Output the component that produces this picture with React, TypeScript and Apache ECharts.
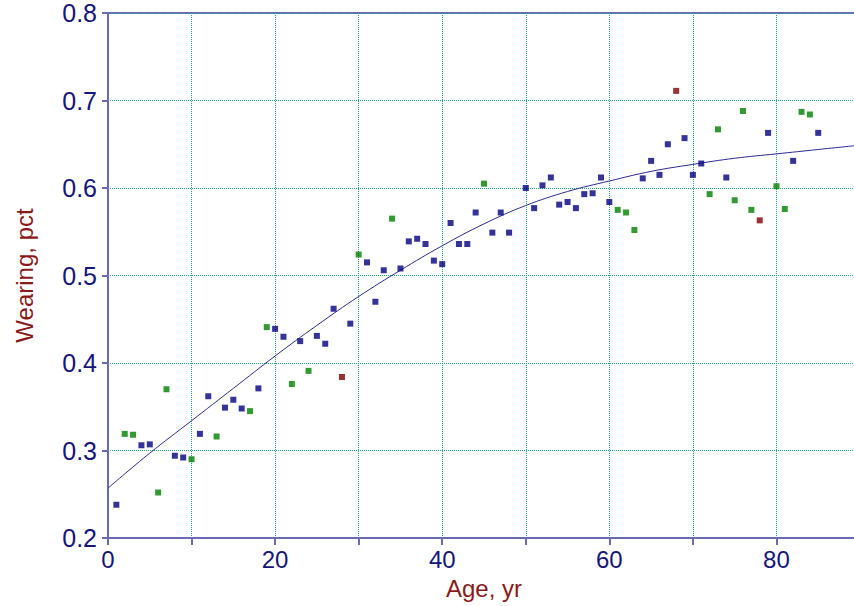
import React, { useEffect, useRef } from "react";
import * as echarts from "echarts";

const ages = [
  1, 2, 3, 4, 5, 6, 7, 8, 9, 10, 11, 12, 13, 14, 15, 16, 17, 18, 19, 20,
  21, 22, 23, 24, 25, 26, 27, 28, 29, 30, 31, 32, 33, 34, 35, 36, 37, 38, 39, 40,
  41, 42, 43, 44, 45, 46, 47, 48, 50, 51, 52, 53, 54, 55, 56, 57, 58, 59, 60,
  61, 62, 63, 64, 65, 66, 67, 68, 69, 70, 71, 72, 73, 74, 75, 76, 77, 78, 79, 80,
  81, 82, 83, 84, 85,
];
const wearing = [
  0.238, 0.319, 0.318, 0.306, 0.307, 0.252, 0.370, 0.294, 0.292, 0.290,
  0.319, 0.362, 0.316, 0.349, 0.358, 0.348, 0.345, 0.371, 0.441, 0.439,
  0.430, 0.376, 0.425, 0.391, 0.431, 0.422, 0.462, 0.384, 0.445, 0.524,
  0.515, 0.470, 0.506, 0.565, 0.508, 0.539, 0.542, 0.536, 0.517, 0.513,
  0.560, 0.536, 0.536, 0.572, 0.605, 0.549, 0.572, 0.549, 0.600, 0.577,
  0.603, 0.612, 0.581, 0.584, 0.577, 0.593, 0.594, 0.612, 0.584,
  0.575, 0.572, 0.552, 0.611, 0.631, 0.615, 0.650, 0.711, 0.657, 0.615,
  0.628, 0.593, 0.667, 0.612, 0.586, 0.688, 0.575, 0.563, 0.663, 0.602,
  0.576, 0.631, 0.687, 0.684, 0.663,
];
// n = navy, g = green, r = dark red
const groups = [
  "n", "g", "g", "n", "n", "g", "g", "n", "n", "g",
  "n", "n", "g", "n", "n", "n", "g", "n", "g", "n",
  "n", "g", "n", "g", "n", "n", "n", "r", "n", "g",
  "n", "n", "n", "g", "n", "n", "n", "n", "n", "n",
  "n", "n", "n", "n", "g", "n", "n", "n", "n", "n",
  "n", "n", "n", "n", "n", "n", "n", "n", "n",
  "g", "g", "g", "n", "n", "n", "n", "r", "n", "n",
  "n", "g", "g", "n", "g", "g", "g", "r", "n", "g",
  "g", "n", "g", "g", "n",
];

const curveAges = [0, 5, 10, 15, 20, 25, 30, 35, 40, 45, 50, 55, 60, 65, 70, 75, 80, 85, 90];
const curveValues = [
  0.257, 0.297, 0.334, 0.371, 0.408, 0.443, 0.476, 0.506, 0.534, 0.559,
  0.58, 0.596, 0.608, 0.619, 0.627, 0.634, 0.639, 0.644, 0.649,
];

const xTicks = [0, 20, 40, 60, 80];

const groupColors: Record<string, string> = {
  n: "#000080",
  g: "#008000",
  r: "#800000",
};

export default function App() {
  const ref = useRef<HTMLDivElement>(null);
  useEffect(() => {
    if (!ref.current) return;
    const chart = echarts.init(ref.current, null, { renderer: "svg" });
    const pointSeries = ["n", "g", "r"].map((g) => ({
      type: "scatter",
      symbol: "rect",
      symbolSize: 6,
      z: 3,
      itemStyle: { color: groupColors[g] },
      data: ages
        .map((a, i) => (groups[i] === g ? [a, wearing[i]] : null))
        .filter((d) => d !== null),
    }));
    const axisColor = "#6b6bb5";
    const labelColor = "#15157a";
    const nameColor = "#8a1a1a";
    const gridColor = "#2a9d9d";
    chart.setOption({
      animation: false,
      backgroundColor: "#ffffff",
      grid: {
        left: 108,
        top: 13,
        bottom: 68,
        right: 1,
        show: true,
        borderColor: axisColor,
        borderWidth: 2,
        backgroundColor: "transparent",
      },
      xAxis: {
        type: "value",
        min: 0,
        max: 90,
        interval: 10,
        name: "Age, yr",
        nameLocation: "middle",
        nameGap: 38,
        nameTextStyle: { color: nameColor, fontSize: 24, fontFamily: "Liberation Sans" },
        axisLine: { show: true, lineStyle: { color: axisColor, width: 2 } },
        axisTick: { show: true, length: 7, lineStyle: { color: axisColor, width: 2 } },
        axisLabel: {
          color: labelColor,
          fontSize: 24,
          fontFamily: "Liberation Sans",
          margin: 9,
          showMaxLabel: false,
          formatter: (v: number) => (xTicks.includes(v) ? String(v) : ""),
        },
        splitLine: {
          show: true,
          lineStyle: { color: gridColor, width: 1, type: [1, 1] },
        },
      },
      yAxis: {
        type: "value",
        min: 0.2,
        max: 0.8,
        interval: 0.1,
        name: "Wearing, pct",
        nameLocation: "middle",
        nameRotate: 90,
        nameGap: 72,
        nameTextStyle: { color: nameColor, fontSize: 24, fontFamily: "Liberation Sans" },
        axisLine: { show: true, lineStyle: { color: axisColor, width: 2 } },
        axisTick: { show: true, length: 6, lineStyle: { color: axisColor, width: 2 } },
        axisLabel: {
          color: labelColor,
          fontSize: 25,
          fontFamily: "Liberation Sans",
          margin: 11,
          formatter: (v: number) => v.toFixed(1),
        },
        splitLine: {
          show: true,
          lineStyle: { color: gridColor, width: 1, type: [1, 1] },
        },
      },
      series: [
        {
          type: "line",
          smooth: 0.4,
          showSymbol: false,
          z: 2,
          lineStyle: { color: "#2a2a95", width: 1 },
          data: curveAges.map((a, i) => [a, curveValues[i]]),
        },
        ...pointSeries,
      ],
    });
    return () => chart.dispose();
  }, []);
  return (
    <div
      ref={ref}
      style={{ position: "fixed", left: 0, top: 0, width: 861, height: 606 }}
    />
  );
}
